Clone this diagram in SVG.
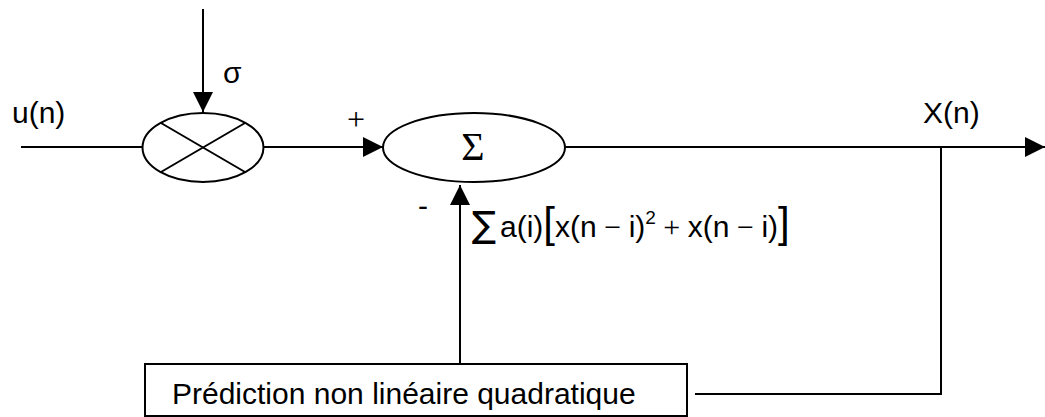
<svg xmlns="http://www.w3.org/2000/svg" width="1045" height="417" viewBox="0 0 1045 417">
<defs>
<style>
.ln{stroke:#000;stroke-width:2;fill:none}
.sh{stroke:#000;stroke-width:2;fill:#fff}
.t{font-family:"Liberation Sans",Arial,sans-serif;font-size:30px;fill:#000}
.s{font-family:"Liberation Serif","Times New Roman",serif;fill:#000}
</style>
<marker id="ah" viewBox="0 0 20 20" refX="20" refY="10" markerWidth="20" markerHeight="20" markerUnits="userSpaceOnUse" orient="auto">
<path d="M0,0 L20,10 L0,20 Z" fill="#000"/>
</marker>
</defs>
<rect width="1045" height="417" fill="#fff"/>
<g id="connectors">
<line class="ln" x1="203" y1="9" x2="203" y2="112" marker-end="url(#ah)"/>
<line class="ln" x1="21" y1="147" x2="142" y2="147"/>
<line class="ln" x1="263" y1="147" x2="383" y2="147" marker-end="url(#ah)"/>
<line class="ln" x1="565" y1="147" x2="1045" y2="147" marker-end="url(#ah)"/>
<polyline class="ln" points="941,147 941,394 695,394"/>
<line class="ln" x1="460" y1="364" x2="460" y2="185" marker-end="url(#ah)"/>
</g>
<g id="multiplier">
<ellipse class="sh" cx="203" cy="147.5" rx="60.5" ry="34.5"/>
<line class="ln" x1="161" y1="123" x2="245" y2="172"/>
<line class="ln" x1="161" y1="172" x2="245" y2="123"/>
</g>
<g id="summer">
<ellipse class="sh" cx="474" cy="147.5" rx="91" ry="34.5"/>
<text class="s" x="473" y="160" font-size="40" text-anchor="middle">Σ</text>
</g>
<g id="predictor">
<rect class="sh" x="145" y="364" width="542" height="52"/>
<text class="t" x="172" y="404" font-size="31">Prédiction non linéaire quadratique</text>
</g>
<g id="labels">
<text class="t" x="223" y="83">σ</text>
<text class="t" x="12" y="123">u(n)</text>
<text class="t" x="923" y="123">X(n)</text>
<text class="s" x="356" y="130" font-size="32" text-anchor="middle">+</text>
<text class="t" x="418" y="216">-</text>
<text class="t" y="237"><tspan x="472" font-family="DejaVu Sans" font-size="36">∑</tspan><tspan x="500">a(i)</tspan><tspan font-size="42">[</tspan><tspan>x(n</tspan><tspan font-family="Liberation Serif"> − </tspan><tspan>i)</tspan><tspan font-size="19" dy="-13">2</tspan><tspan dy="13" font-family="Liberation Serif"> + </tspan><tspan>x(n</tspan><tspan font-family="Liberation Serif"> − </tspan><tspan>i)</tspan><tspan font-size="42">]</tspan></text>
</g>
</svg>
